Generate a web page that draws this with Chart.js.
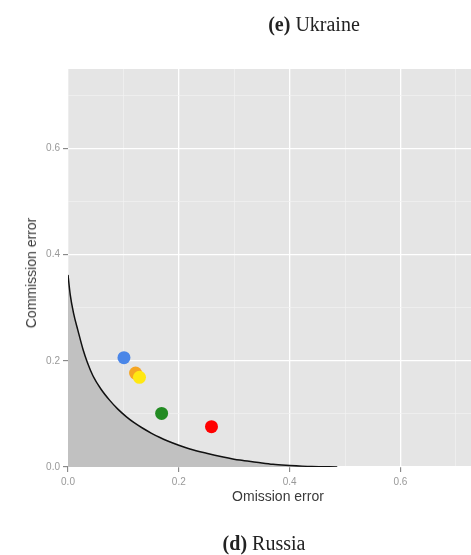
<!DOCTYPE html>
<html>
<head>
<meta charset="utf-8">
<script src="https://cdn.jsdelivr.net/npm/chart.js@4/dist/chart.umd.min.js"></script>
<style>
  body { margin: 0; background: #fff; }
  #wrap { position: relative; width: 471px; height: 555px; overflow: hidden; }
  canvas { position: absolute; left: 0; top: 0; }
  .cap { position: absolute; font-family: "Liberation Serif", serif; font-size: 20px; line-height: 20px; color: #222; white-space: nowrap; transform: translateX(-50%); }
  .axt { position: absolute; font-family: "Liberation Sans", Arial, sans-serif; font-size: 14px; line-height: 14px; color: #3a3a3a; white-space: nowrap; }
</style>
</head>
<body>
<div id="wrap">
  <canvas id="myChart" width="490" height="555"></canvas>
  <div class="cap" style="left:314px; top:14px;"><b>(e)</b> Ukraine</div>
  <div class="cap" style="left:264px; top:533px;"><b>(d)</b> Russia</div>
  <div class="axt" style="left:278px; top:489px; transform:translateX(-50%);">Omission error</div>
  <div class="axt" style="left:31px; top:273px; transform:translate(-50%,-50%) rotate(-90deg);">Commission error</div>
</div>
<script>
// punten (omission / commission error)
const omission = [0.101, 0.122, 0.129, 0.169, 0.259];
const commission = [0.206, 0.177, 0.169, 0.101, 0.076];

const curveX = [0, 0.004, 0.01, 0.018, 0.027, 0.035, 0.045, 0.06, 0.075, 0.09, 0.105, 0.12, 0.135, 0.15, 0.165, 0.18, 0.2, 0.22, 0.25, 0.28, 0.31, 0.34, 0.37, 0.4, 0.44, 0.486];
const curveY = [0.362, 0.325, 0.29, 0.257, 0.222, 0.197, 0.172, 0.146, 0.126, 0.109, 0.095, 0.083, 0.073, 0.064, 0.056, 0.049, 0.041, 0.034, 0.026, 0.019, 0.013, 0.009, 0.005, 0.003, 0.001, 0];

const tickValues = [0, 0.2, 0.4, 0.6];

const pointColors = ['#4a86e8', '#f5a623', '#ffe812', '#228b22', '#ff0000'];

const isMajor = v => tickValues.some(t => Math.abs(t - v) < 1e-6);

const panelBg = {
  id: 'panelBg',
  beforeDraw(chart) {
    const a = chart.chartArea;
    const c = chart.ctx;
    c.save();
    c.fillStyle = '#e5e5e5';
    c.fillRect(a.left, a.top, a.right - a.left, a.bottom - a.top);
    c.restore();
  }
};

function axisOpts(fit) {
  return {
    type: 'linear',
    min: 0,
    max: 0.75,
    border: { display: false },
    grid: {
      color: ctx => isMajor(ctx.tick.value) ? '#ffffff' : '#f2f2f2',
      lineWidth: ctx => isMajor(ctx.tick.value) ? 1.3 : 0.7,
      tickColor: ctx => isMajor(ctx.tick.value) ? '#777' : 'rgba(0,0,0,0)',
      tickLength: 5,
      tickWidth: 1
    },
    ticks: {
      stepSize: 0.1,
      includeBounds: false,
      autoSkip: false,
      maxRotation: 0,
      color: '#999',
      font: { family: 'Liberation Sans, Arial, sans-serif', size: 10 },
      callback: v => isMajor(v) ? v.toFixed(1) : ''
    },
    afterFit: fit
  };
}

const xOpts = axisOpts(s => { s.height = 88; });
xOpts.ticks.padding = 4;
const yOpts = axisOpts(s => { s.width = 68; });
yOpts.ticks.padding = 3;

const ctx = document.getElementById('myChart').getContext('2d');
new Chart(ctx, {
  type: 'scatter',
  data: {
    datasets: [
      {
        label: 'curve',
        data: curveX.map((x, i) => ({ x: x, y: curveY[i] })),
        showLine: true,
        fill: 'origin',
        backgroundColor: '#c1c1c1',
        borderColor: '#111',
        borderWidth: 1.5,
        pointRadius: 0,
        cubicInterpolationMode: 'monotone',
        order: 2
      },
      {
        label: 'points',
        data: omission.map((x, i) => ({ x: x, y: commission[i] })),
        backgroundColor: pointColors,
        borderColor: pointColors,
        borderWidth: 0,
        pointRadius: 6.5,
        order: 1
      }
    ]
  },
  plugins: [panelBg],
  options: {
    responsive: false,
    animation: false,
    layout: { padding: { top: 69, right: 3, left: 0, bottom: 0 } },
    plugins: { legend: { display: false }, tooltip: { enabled: false } },
    scales: { x: xOpts, y: yOpts }
  }
});
</script>
</body>
</html>
